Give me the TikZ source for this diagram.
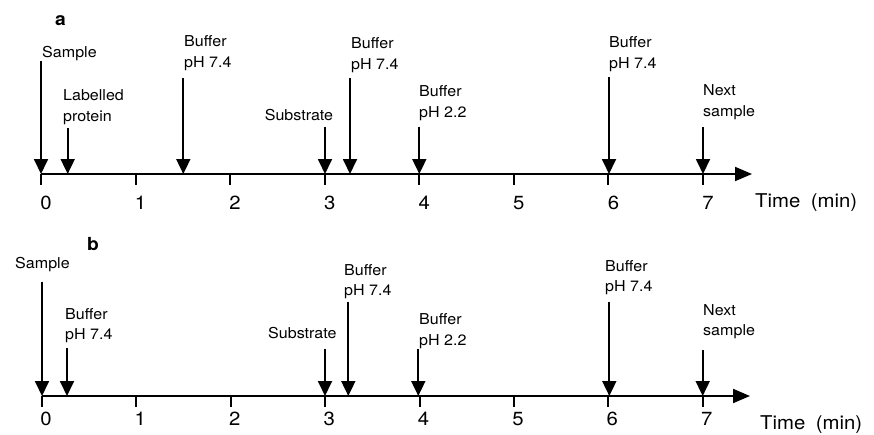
\documentclass[tikz,border=0pt]{standalone}
\usepackage{fontspec}
\setmainfont{TeX Gyre Heros}[FakeStretch=1.07]
\usetikzlibrary{arrows.meta}
\begin{document}
\begin{tikzpicture}[x=1pt,y=-1pt,
  evt/.style={line width=1.8pt,-{Triangle[width=14pt,length=15pt]}},
  axisline/.style={line width=1.9pt,-{Triangle[width=14pt,length=17pt]}},
  tickmark/.style={line width=1.9pt},
  lab/.style={inner sep=0pt,anchor=base west,align=left,font=\fontsize{15}{20.7}\selectfont},
  labr/.style={lab,anchor=base east,align=right},
  num/.style={inner sep=0pt,anchor=base,font=\fontsize{19}{22}\selectfont},
  unit/.style={inner sep=0pt,anchor=base west,font=\fontsize{19}{22}\selectfont},
  panel/.style={inner sep=0pt,anchor=base west,font=\fontsize{18}{20}\selectfont\bfseries}]
\useasboundingbox (0,0) rectangle (874,434);

% ---------------- panel a ----------------
\node[panel] (pa) at (55,25) {a};
\coordinate (aO) at (41,174);
\coordinate (aEnd) at (752,174);
\draw[axisline] (aO) -- (aEnd);
\foreach \i in {0,...,7} {
  \coordinate (at\i) at ({41+94.57*\i},174);
  \coordinate (atb\i) at ({41+94.57*\i},185);
  \draw[tickmark] (at\i) -- (atb\i);
  \node[num] (an\i) at ({46+94.57*\i},209) {\i};
}
\node[unit] (aunit) at (755,207.7) {Time\hspace{0.55em}(min)};

\coordinate (a1t) at (41,61);     \coordinate (a1b) at (41,174);
\coordinate (a2t) at (67.7,128);  \coordinate (a2b) at (67.7,174);
\coordinate (a3t) at (183.3,78.3);\coordinate (a3b) at (183.3,174);
\coordinate (a4t) at (325,126.7); \coordinate (a4b) at (325,174);
\coordinate (a5t) at (350,78.3);  \coordinate (a5b) at (350,174);
\coordinate (a6t) at (419.3,126.7);\coordinate (a6b) at (419.3,174);
\coordinate (a7t) at (609,77.3);  \coordinate (a7b) at (609,174);
\coordinate (a8t) at (703,127);   \coordinate (a8b) at (703,174);
\foreach \k in {1,...,8} { \draw[evt] (a\k t) -- (a\k b); }

% two-line labels: base anchor = baseline of the last line
\node[lab] (a1l) at (42,57) {Sample};
\node[lab] (a2l) at (63,121.4) {Labelled\\protein};
\node[lab] (a3l) at (184,67.4) {Buffer\\pH 7.4};
\node[labr] (a4l) at (333.3,120.7) {Substrate};
\node[lab] (a5l) at (351,69) {Buffer\\pH 7.4};
\node[lab] (a6l) at (419,117.4) {Buffer\\pH 2.2};
\node[lab] (a7l) at (609,68.4) {Buffer\\pH 7.4};
\node[lab] (a8l) at (703,116.4) {Next\\sample};

% ---------------- panel b ----------------
\node[panel] (pb) at (87,250) {b};
\coordinate (bO) at (42,396);
\coordinate (bEnd) at (750,396);
\draw[axisline] (bO) -- (bEnd);
\foreach \i in {0,...,7} {
  \coordinate (bt\i) at ({42+94.39*\i},396);
  \coordinate (btb\i) at ({42+94.39*\i},407);
  \draw[tickmark] (bt\i) -- (btb\i);
  \node[num] (bn\i) at ({46+94.39*\i},425) {\i};
}
\node[unit] (bunit) at (760,429.7) {Time\hspace{0.55em}(min)};

\coordinate (b1t) at (42,281.7);   \coordinate (b1b) at (42,396);
\coordinate (b2t) at (67,348.3);   \coordinate (b2b) at (67,396);
\coordinate (b4t) at (325,349.3);  \coordinate (b4b) at (325,396);
\coordinate (b5t) at (348.3,301.7);\coordinate (b5b) at (348.3,396);
\coordinate (b6t) at (418.3,349.3);\coordinate (b6b) at (418.3,396);
\coordinate (b7t) at (609.3,301.7);\coordinate (b7b) at (609.3,396);
\coordinate (b8t) at (702.7,350);  \coordinate (b8b) at (702.7,396);
\foreach \k in {1,2,4,5,6,7,8} { \draw[evt] (b\k t) -- (b\k b); }

\node[lab] (b1l) at (15,268.3) {Sample};
\node[lab] (b2l) at (65,339.7) {Buffer\\pH 7.4};
\node[labr] (b4l) at (336.7,338.3) {Substrate};
\node[lab] (b5l) at (344,295.7) {Buffer\\pH 7.4};
\node[lab] (b6l) at (419,345) {Buffer\\pH 2.2};
\node[lab] (b7l) at (605,291.7) {Buffer\\pH 7.4};
\node[lab] (b8l) at (703,335.7) {Next\\sample};
\end{tikzpicture}
\end{document}
